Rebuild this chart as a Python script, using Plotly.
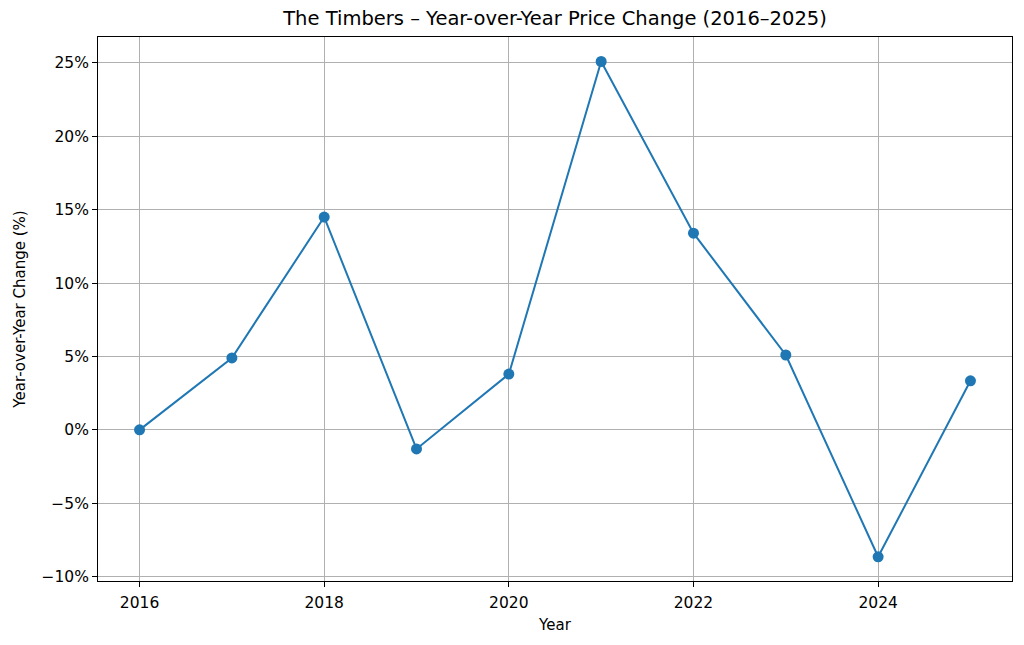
import plotly.graph_objects as go

years = [2016, 2017, 2018, 2019, 2020, 2021, 2022, 2023, 2024, 2025]
yoy_change = [0.0, 4.9, 14.5, -1.3, 3.8, 25.1, 13.4, 5.1, -8.65, 3.34]
x_ticks = [2016, 2018, 2020, 2022, 2024]
y_ticks = [-10, -5, 0, 5, 10, 15, 20, 25]
y_tick_labels = ["−10%", "−5%", "0%", "5%", "10%", "15%", "20%", "25%"]

fig = go.Figure()
fig.add_trace(go.Scatter(
    x=years, y=yoy_change, mode="lines+markers",
    line=dict(color="#1f77b4", width=2),
    marker=dict(color="#1f77b4", size=11),
    showlegend=False,
))

axis_common = dict(
    showline=True, linecolor="black", linewidth=1, mirror=True,
    ticks="outside", ticklen=5, tickcolor="black",
    showgrid=True, gridcolor="#b0b0b0", gridwidth=1,
    zeroline=False,
    tickfont=dict(family="DejaVu Sans", size=15.5, color="black"),
)

# page body has an 8px margin; size the figure so the plot area lands where the reference has it
fig.update_layout(
    width=1016, height=637,
    paper_bgcolor="white", plot_bgcolor="white",
    margin=dict(l=89, r=11, t=29, b=64),
    font=dict(family="DejaVu Sans", color="black"),
    title=dict(text="The Timbers – Year-over-Year Price Change (2016–2025)",
               xref="paper", x=0.5, xanchor="center", y=0.984, yanchor="middle",
               font=dict(size=19.5, family="DejaVu Sans")),
    xaxis=dict(range=[2015.55, 2025.45], tickvals=x_ticks, ticklabelstandoff=2,
               title=dict(text="Year", font=dict(size=15), standoff=8),
               **axis_common),
    yaxis=dict(range=[-10.3, 26.77], tickvals=y_ticks, ticktext=y_tick_labels,
               title=dict(text="Year-over-Year Change (%)", font=dict(size=15), standoff=12),
               **axis_common),
)

fig.write_html("out.html")
